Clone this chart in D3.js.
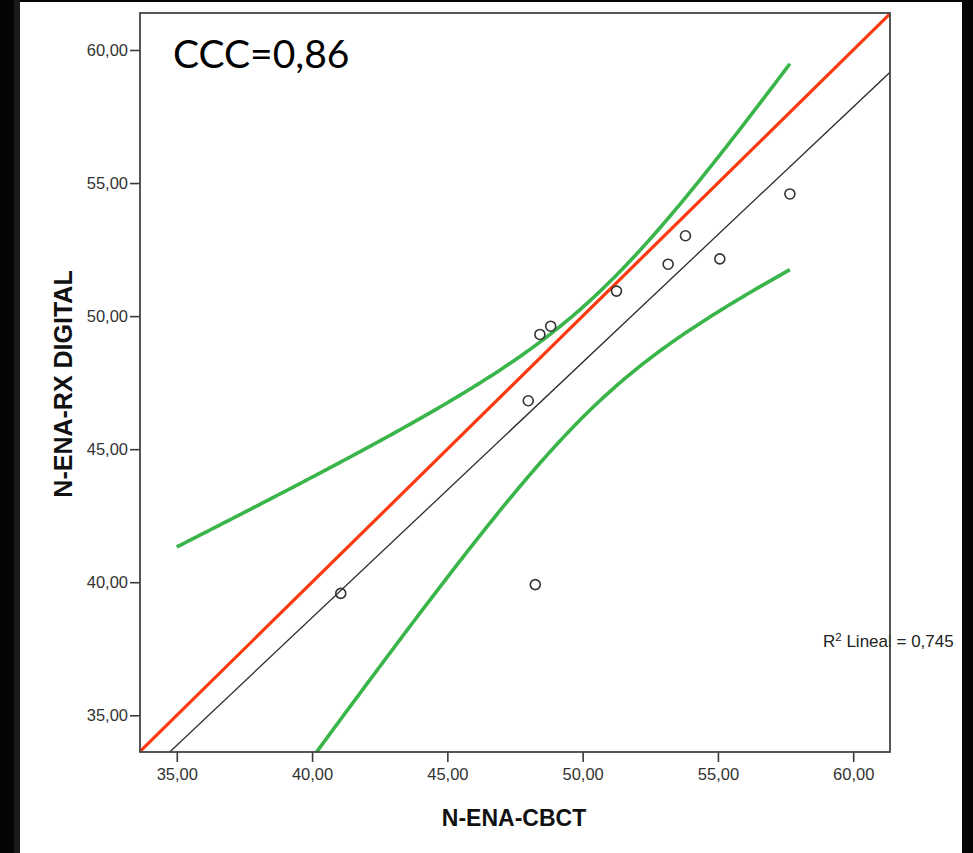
<!DOCTYPE html>
<html>
<head>
<meta charset="utf-8">
<script src="https://cdn.jsdelivr.net/npm/d3@7"></script>
<style>
  html, body { margin: 0; padding: 0; background: #000; }
  svg { display: block; }
</style>
</head>
<body>
<svg id="chart" width="973" height="853"></svg>
<script>
// ---- data ----
const cbct      = [41.06, 48.25, 47.99, 48.42, 48.82, 51.25, 53.16, 53.80, 55.07, 57.66];
const rxDigital = [39.58, 39.91, 46.82, 49.31, 49.62, 50.94, 51.95, 53.02, 52.15, 54.59];
const xTicks = [35, 40, 45, 50, 55, 60];
const yTicks = [35, 40, 45, 50, 55, 60];
const xDomain = [33.64, 61.36];
const yDomain = [33.62, 61.39];
const bandStart = 35;          // CI band drawn from 35 to the largest CBCT value
const tCrit = 2.306;           // t(0.975, df = 8) for the 95% CI of the mean
const cccLabel = "CCC=0,86";
const r2Value = "0,745";
const xTitle = "N-ENA-CBCT";
const yTitle = "N-ENA-RX DIGITAL";

const svg = d3.select("#chart");
const W = 973, H = 853;
const plot = { left: 140, right: 890, top: 13, bottom: 752 };

// page background (photographed slide: black edges, white sheet)
svg.append("rect").attr("x", 0).attr("y", 0).attr("width", W).attr("height", H).attr("fill", "#050505");
svg.append("rect").attr("x", 20).attr("y", 2).attr("width", 942).attr("height", H - 2).attr("fill", "#ffffff");
svg.append("rect").attr("x", 14).attr("y", 0).attr("width", 6).attr("height", H).attr("fill", "#1a1a1a");

const x = d3.scaleLinear().domain(xDomain).range([plot.left, plot.right]);
const y = d3.scaleLinear().domain(yDomain).range([plot.bottom, plot.top]);

svg.append("clipPath").attr("id", "clip")
  .append("rect").attr("x", plot.left).attr("y", plot.top)
  .attr("width", plot.right - plot.left).attr("height", plot.bottom - plot.top);

const g = svg.append("g").attr("clip-path", "url(#clip)");

// fit statistics derived from the points
const pts = cbct.map((v, i) => ({ x: v, y: rxDigital[i] }));
const n = pts.length;
const mx = d3.mean(pts, d => d.x), my = d3.mean(pts, d => d.y);
const sxx = d3.sum(pts, d => (d.x - mx) ** 2);
const sxy = d3.sum(pts, d => (d.x - mx) * (d.y - my));
const slope = sxy / sxx, intercept = my - slope * mx;
const sse = d3.sum(pts, d => (d.y - (intercept + slope * d.x)) ** 2);
const s = Math.sqrt(sse / (n - 2));

const line = d3.line().x(d => x(d[0])).y(d => y(d[1]));

// regression line (thin black)
g.append("path")
  .attr("d", line([[xDomain[0], intercept + slope * xDomain[0]], [xDomain[1], intercept + slope * xDomain[1]]]))
  .attr("fill", "none").attr("stroke", "#2b2b2b").attr("stroke-width", 1.3);

// identity line (red)
g.append("path")
  .attr("d", line([[xDomain[0], xDomain[0]], [xDomain[1], xDomain[1]]]))
  .attr("fill", "none").attr("stroke", "#fb3a10").attr("stroke-width", 3.2);

// 95% CI of the mean (green)
const xmax = d3.max(cbct);
const band = d3.range(0, 201).map(k => bandStart + (xmax - bandStart) * k / 200);
const hw = xv => tCrit * s * Math.sqrt(1 / n + (xv - mx) ** 2 / sxx);
const upper = band.map(xv => [xv, intercept + slope * xv + hw(xv)]);
const lower = band.map(xv => [xv, intercept + slope * xv - hw(xv)]);
[upper, lower].forEach(c => {
  g.append("path").attr("d", line(c))
    .attr("fill", "none").attr("stroke", "#3ab54a").attr("stroke-width", 3.6);
});

// points
svg.append("g").selectAll("circle").data(pts).join("circle")
  .attr("cx", d => x(d.x)).attr("cy", d => y(d.y)).attr("r", 5)
  .attr("fill", "none").attr("stroke", "#333").attr("stroke-width", 1.6);

// R² label
const r2 = svg.append("text").attr("x", 823).attr("y", 647)
  .attr("font-family", "Liberation Sans, Arial, sans-serif").attr("font-size", 17).attr("fill", "#222");
r2.append("tspan").text("R");
r2.append("tspan").attr("font-size", 11.5).attr("dy", -6).text("2");
r2.append("tspan").attr("dy", 6).text(" Lineal = " + r2Value);

// CCC label
svg.append("text").attr("x", 173).attr("y", 68)
  .attr("font-family", "Lato, 'Open Sans', sans-serif").attr("font-size", 39).attr("fill", "#000")
  .text(cccLabel);

// axes
const fmt = v => d3.format(".2f")(v).replace(".", ",");
const xAxis = svg.append("g").attr("transform", `translate(0,${plot.bottom})`)
  .call(d3.axisBottom(x).tickValues(xTicks).tickFormat(fmt).tickSize(10).tickSizeOuter(0).tickPadding(6));
const yAxis = svg.append("g").attr("transform", `translate(${plot.left},0)`)
  .call(d3.axisLeft(y).tickValues(yTicks).tickFormat(fmt).tickSize(10).tickSizeOuter(0).tickPadding(2));
[xAxis, yAxis].forEach(a => {
  a.select(".domain").remove();
  a.selectAll(".tick line").attr("stroke", "#3a3a3a").attr("stroke-width", 1.6);
  a.selectAll(".tick text").attr("fill", "#333")
    .attr("font-family", "Liberation Sans, Arial, sans-serif").attr("font-size", 16.5);
});

// plot frame
svg.append("rect").attr("x", plot.left).attr("y", plot.top)
  .attr("width", plot.right - plot.left).attr("height", plot.bottom - plot.top)
  .attr("fill", "none").attr("stroke", "#444").attr("stroke-width", 1.8);

// axis titles
svg.append("text").attr("x", 514).attr("y", 826).attr("text-anchor", "middle")
  .attr("font-family", "Liberation Sans, Arial, sans-serif").attr("font-weight", "bold")
  .attr("font-size", 23).attr("fill", "#111").text(xTitle);
svg.append("text").attr("transform", "translate(72,384) rotate(-90)").attr("text-anchor", "middle")
  .attr("font-family", "Liberation Sans, Arial, sans-serif").attr("font-weight", "bold")
  .attr("font-size", 25).attr("fill", "#111").text(yTitle);
</script>
</body>
</html>
